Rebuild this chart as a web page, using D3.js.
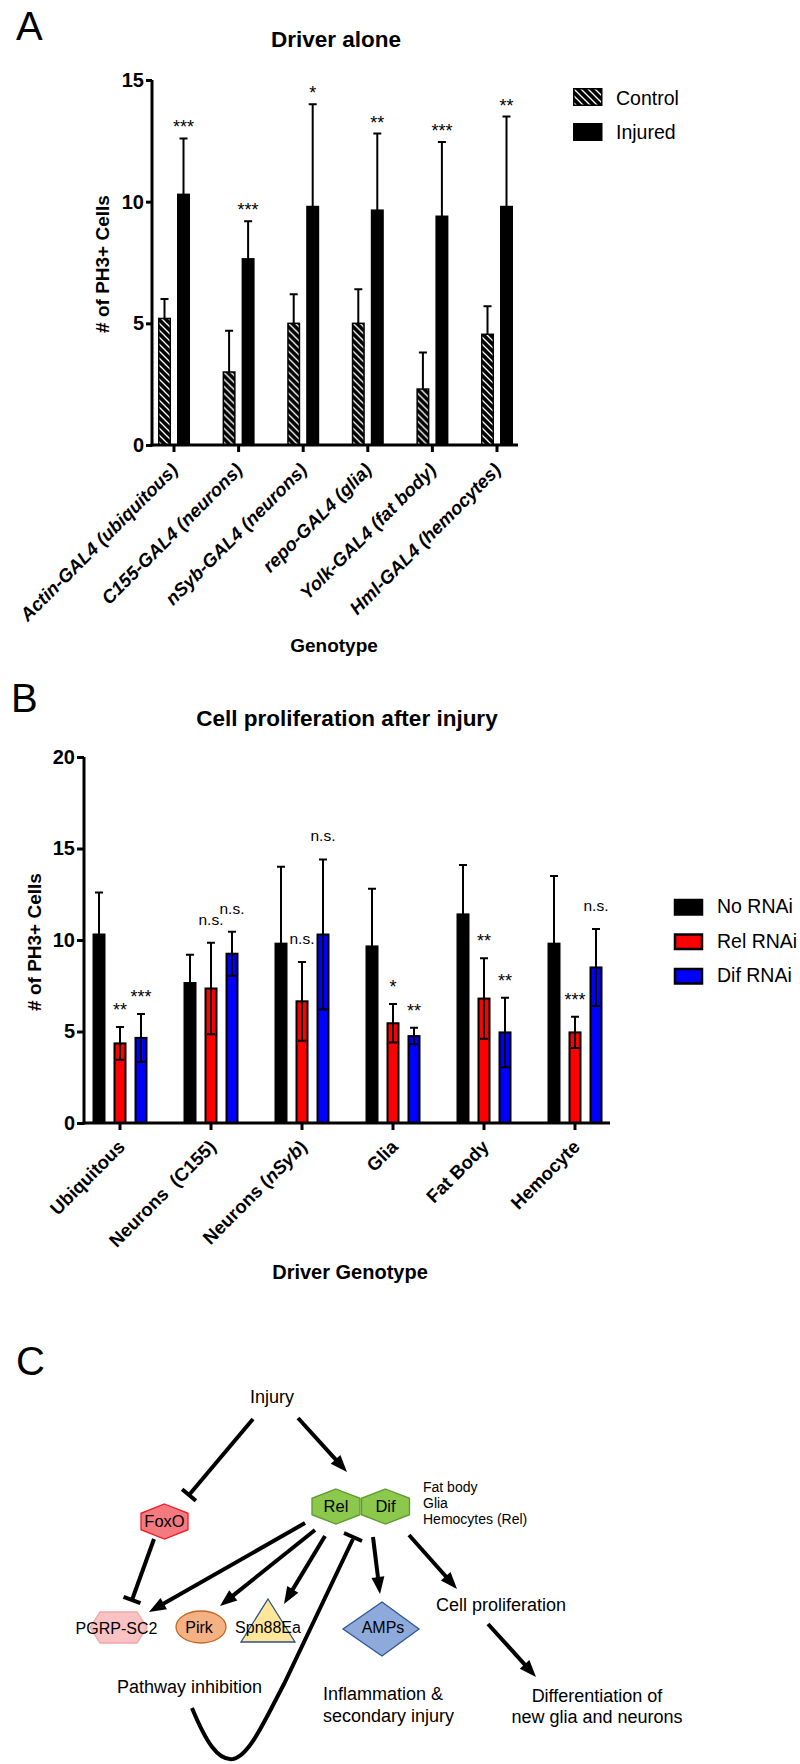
<!DOCTYPE html>
<html>
<head>
<meta charset="utf-8">
<script src="https://cdn.jsdelivr.net/npm/d3@7"></script>
<style>
  body { margin: 0; background: #fff; }
  svg { display: block; }
  text { white-space: pre; }
</style>
</head>
<body>
<div id="fig"></div>
<script>
// ---- panel A data ----
const genotypesA = ["Actin-GAL4 (ubiquitous)", "C155-GAL4 (neurons)", "nSyb-GAL4 (neurons)",
                    "repo-GAL4 (glia)", "Yolk-GAL4 (fat body)", "Hml-GAL4 (hemocytes)"];
const seriesA = ["Control", "Injured"];
const controlMean = [5.2, 3.0, 5.0, 5.0, 2.3, 4.55];
const controlSD = [0.8, 1.7, 1.2, 1.4, 1.5, 1.15];
const injuredMean = [10.3, 7.65, 9.8, 9.65, 9.4, 9.8];
const injuredSD = [2.3, 1.55, 4.2, 3.15, 3.05, 3.7];
const sigA = ["***", "***", "*", "**", "***", "**"];
const ticksA = [0, 5, 10, 15];

// ---- panel B data ----
const driversB = ["Ubiquitous", "Neurons  (C155)", "Neurons (nSyb)", "Glia", "Fat Body", "Hemocyte"];
const seriesB = ["No RNAi", "Rel RNAi", "Dif RNAi"];
const noRnaiMean = [10.3, 7.65, 9.8, 9.65, 11.4, 9.8];
const noRnaiSD = [2.3, 1.55, 4.2, 3.15, 2.7, 3.7];
const relMean = [4.35, 7.35, 6.65, 5.45, 6.8, 4.95];
const relSD = [0.9, 2.5, 2.15, 1.05, 2.2, 0.85];
const difMean = [4.65, 9.25, 10.3, 4.75, 4.95, 8.5];
const difSD = [1.3, 1.2, 4.1, 0.45, 1.9, 2.1];
const sigRel = ["**", "n.s.", "n.s.", "*", "**", "***"];
const sigDif = ["***", "n.s.", "n.s.", "**", "**", "n.s."];
const ticksB = [0, 5, 10, 15, 20];
const colorsB = ["#000000", "#ff0000", "#0000ff"];

const W = 800, H = 1764;
const FONT = '"Liberation Sans", Arial, Helvetica, sans-serif';

const svg = d3.select("#fig").append("svg")
    .attr("width", W).attr("height", H)
    .attr("viewBox", [0, 0, W, H])
    .attr("font-family", FONT);

// black hatch with thin white "\" stripes
const defs = svg.append("defs");
const hatch = defs.append("pattern")
    .attr("id", "hatch")
    .attr("patternUnits", "userSpaceOnUse")
    .attr("width", 7).attr("height", 7);
hatch.append("rect").attr("width", 7).attr("height", 7).attr("fill", "#000");
hatch.append("path")
    .attr("d", "M-1,-1L8,8M-1,6L1,8M6,-1L8,1")
    .attr("stroke", "#fff").attr("stroke-width", 1.3);

function panelLetter(t, x, y) {
    svg.append("text").attr("x", x).attr("y", y)
        .attr("font-size", 40).text(t);
}

function styleYAxis(g) {
    g.select(".domain").attr("stroke-width", 3);
    g.selectAll(".tick line").attr("stroke-width", 3);
    g.selectAll(".tick text")
        .attr("font-size", 20).attr("font-weight", "bold")
        .attr("font-family", FONT).attr("fill", "#000");
}

// ================= Panel A =================
panelLetter("A", 16, 40);

const yA = d3.scaleLinear().domain([0, 15]).range([445, 80]);
const xA = d3.scaleBand().domain(genotypesA).range([141.7, 529.3]);
const subA = d3.scaleBand().domain(seriesA).range([0, 32]).paddingInner(6 / 19);
const x0A = 152, x1A = 518;

svg.append("text").attr("x", 336).attr("y", 47)
    .attr("text-anchor", "middle").attr("font-size", 22.5).attr("font-weight", "bold")
    .text("Driver alone");

const gA = svg.append("g");
const rowsA = genotypesA.map((g, i) => ({
    g: g,
    vals: [
        { k: "Control", m: controlMean[i], sd: controlSD[i] },
        { k: "Injured", m: injuredMean[i], sd: injuredSD[i] }
    ],
    sig: sigA[i]
}));

const groupA = gA.selectAll("g.grp").data(rowsA).join("g")
    .attr("class", "grp")
    .attr("transform", d => `translate(${xA(d.g) + xA.bandwidth() / 2 - 16},0)`);

groupA.selectAll("rect").data(d => d.vals).join("rect")
    .attr("x", d => subA(d.k) + 0.75)
    .attr("width", subA.bandwidth() - 1.5)
    .attr("y", d => yA(d.m))
    .attr("height", d => yA(0) - yA(d.m))
    .attr("fill", d => d.k === "Control" ? "url(#hatch)" : "#000")
    .attr("stroke", "#000").attr("stroke-width", 1.5);

// error bars (upper only)
groupA.selectAll("path.err").data(d => d.vals).join("path")
    .attr("class", "err")
    .attr("fill", "none").attr("stroke", "#000").attr("stroke-width", 2)
    .attr("d", d => {
        const cx = subA(d.k) + subA.bandwidth() / 2;
        const yt = yA(d.m + d.sd);
        return `M${cx},${yA(d.m)}V${yt}M${cx - 4},${yt}H${cx + 4}`;
    });

groupA.append("text")
    .attr("x", 16 + 9.5)
    .attr("y", d => yA(d.vals[1].m + d.vals[1].sd) - 5)
    .attr("text-anchor", "middle").attr("font-size", 18)
    .text(d => d.sig);

// axes A
const axA = svg.append("g").attr("transform", `translate(${x0A},0)`)
    .call(d3.axisLeft(yA).tickValues(ticksA).tickSize(6).tickSizeOuter(0).tickPadding(2));
styleYAxis(axA);
axA.select(".domain").attr("d", `M0,${yA(15)}V${yA(0) + 1.5}`);

svg.append("line").attr("x1", x0A - 1.5).attr("x2", x1A).attr("y1", yA(0)).attr("y2", yA(0))
    .attr("stroke", "#000").attr("stroke-width", 3);
svg.append("g").selectAll("line").data(genotypesA).join("line")
    .attr("x1", d => xA(d) + xA.bandwidth() / 2).attr("x2", d => xA(d) + xA.bandwidth() / 2)
    .attr("y1", yA(0)).attr("y2", yA(0) + 7)
    .attr("stroke", "#000").attr("stroke-width", 3);

svg.append("g").selectAll("text").data(genotypesA).join("text")
    .attr("transform", d => `translate(${xA(d) + xA.bandwidth() / 2 + 5},471) rotate(-45)`)
    .attr("text-anchor", "end")
    .attr("font-size", 18.5).attr("font-weight", "bold").attr("font-style", "italic")
    .text(d => d);

svg.append("text").attr("x", 334).attr("y", 652)
    .attr("text-anchor", "middle").attr("font-size", 19).attr("font-weight", "bold")
    .text("Genotype");

svg.append("text")
    .attr("transform", "translate(109,264) rotate(-90)")
    .attr("text-anchor", "middle").attr("font-size", 19).attr("font-weight", "bold")
    .text("# of PH3+ Cells");

// legend A
const legA = svg.append("g").attr("transform", "translate(573,88)");
legA.selectAll("rect").data(seriesA).join("rect")
    .attr("x", 0.75).attr("y", (d, i) => i * 35 + 0.75)
    .attr("width", 28).attr("height", 16.5)
    .attr("fill", d => d === "Control" ? "url(#hatch)" : "#000")
    .attr("stroke", "#000").attr("stroke-width", 1.5);
legA.selectAll("text").data(seriesA).join("text")
    .attr("x", 43).attr("y", (d, i) => 17 + i * 33.5)
    .attr("font-size", 19.5)
    .text(d => d);

// ================= Panel B =================
panelLetter("B", 11, 712);

const yB = d3.scaleLinear().domain([0, 20]).range([1123, 757]);
const xB = d3.scaleBand().domain(driversB).range([74.5, 620.5]);
const subB = d3.scaleBand().domain(seriesB).range([0, 53]).paddingInner(10 / 21);
const x0B = 84, x1B = 610;

svg.append("text").attr("x", 347).attr("y", 726)
    .attr("text-anchor", "middle").attr("font-size", 22.5).attr("font-weight", "bold")
    .text("Cell proliferation after injury");

const rowsB = driversB.map((g, i) => ({
    g: g,
    vals: [
        { k: seriesB[0], m: noRnaiMean[i], sd: noRnaiSD[i], sig: "" },
        { k: seriesB[1], m: relMean[i], sd: relSD[i], sig: sigRel[i] },
        { k: seriesB[2], m: difMean[i], sd: difSD[i], sig: sigDif[i] }
    ]
}));

const groupB = svg.append("g").selectAll("g.grp").data(rowsB).join("g")
    .attr("class", "grp")
    .attr("transform", d => `translate(${xB(d.g) + xB.bandwidth() / 2 - 26.5},0)`);

groupB.selectAll("rect").data(d => d.vals).join("rect")
    .attr("x", d => subB(d.k))
    .attr("width", subB.bandwidth())
    .attr("y", d => yB(d.m))
    .attr("height", d => yB(0) - yB(d.m))
    .attr("fill", (d, i) => colorsB[i])
    .attr("stroke", "#000").attr("stroke-width", 2);

// error bars (both directions)
groupB.selectAll("path.err").data(d => d.vals).join("path")
    .attr("class", "err")
    .attr("fill", "none").attr("stroke", "#000").attr("stroke-width", 2)
    .attr("d", d => {
        const cx = subB(d.k) + subB.bandwidth() / 2;
        const yt = yB(d.m + d.sd), yb = yB(d.m - d.sd);
        return `M${cx},${yb}V${yt}M${cx - 4},${yt}H${cx + 4}M${cx - 4},${yb}H${cx + 4}`;
    });

groupB.selectAll("text").data(d => d.vals.filter(v => v.sig)).join("text")
    .attr("x", d => subB(d.k) + subB.bandwidth() / 2)
    .attr("y", d => yB(d.m + d.sd) - (d.sig === "n.s." ? 18 : 11))
    .attr("text-anchor", "middle")
    .attr("font-size", d => d.sig === "n.s." ? 15.5 : 18)
    .text(d => d.sig);

const axB = svg.append("g").attr("transform", `translate(${x0B},0)`)
    .call(d3.axisLeft(yB).tickValues(ticksB).tickSize(7).tickSizeOuter(0).tickPadding(2));
styleYAxis(axB);
axB.select(".domain").attr("d", `M0,${yB(20)}V${yB(0) + 1.5}`);

svg.append("line").attr("x1", x0B - 1.5).attr("x2", x1B).attr("y1", yB(0)).attr("y2", yB(0))
    .attr("stroke", "#000").attr("stroke-width", 3);
svg.append("g").selectAll("line").data(driversB).join("line")
    .attr("x1", d => xB(d) + xB.bandwidth() / 2).attr("x2", d => xB(d) + xB.bandwidth() / 2)
    .attr("y1", yB(0)).attr("y2", yB(0) + 7)
    .attr("stroke", "#000").attr("stroke-width", 3);

const labB = svg.append("g").selectAll("text").data(driversB).join("text")
    .attr("transform", d => `translate(${xB(d) + xB.bandwidth() / 2 + 6},1148) rotate(-45)`)
    .attr("text-anchor", "end")
    .attr("font-size", 18.5).attr("font-weight", "bold");
// nSyb is a gene name -> italic
labB.each(function (d) {
    const parts = d.split(/(nSyb)/).filter(p => p);
    d3.select(this).selectAll("tspan").data(parts).join("tspan")
        .attr("font-style", p => p === "nSyb" ? "italic" : null)
        .text(p => p);
});

svg.append("text").attr("x", 350).attr("y", 1279)
    .attr("text-anchor", "middle").attr("font-size", 20).attr("font-weight", "bold")
    .text("Driver Genotype");

svg.append("text")
    .attr("transform", "translate(41,942) rotate(-90)")
    .attr("text-anchor", "middle").attr("font-size", 19).attr("font-weight", "bold")
    .text("# of PH3+ Cells");

const legB = svg.append("g").attr("transform", "translate(674,899)");
legB.selectAll("rect").data(seriesB).join("rect")
    .attr("x", 1).attr("y", (d, i) => i * 34.5 + 1)
    .attr("width", 27).attr("height", 14.5)
    .attr("fill", (d, i) => colorsB[i])
    .attr("stroke", "#000").attr("stroke-width", 2.5);
legB.selectAll("text").data(seriesB).join("text")
    .attr("x", 43).attr("y", (d, i) => 14 + i * 34.5)
    .attr("font-size", 19.5)
    .text(d => d);

// ================= Panel C (schematic) =================
panelLetter("C", 16, 1375);

const gC = svg.append("g");

function hexPointy(cx, cy, hw, hh) {
    const q = hh * 0.47;
    return [[cx, cy - hh], [cx + hw, cy - q], [cx + hw, cy + q], [cx, cy + hh], [cx - hw, cy + q], [cx - hw, cy - q]];
}

const shapes = [
    { type: "poly", pts: hexPointy(336, 1506.5, 24, 17.5), fill: "#8cc84b", stroke: "#5b9a2e" },
    { type: "poly", pts: hexPointy(385.5, 1506.5, 24, 17.5), fill: "#8cc84b", stroke: "#5b9a2e" },
    { type: "poly", pts: hexPointy(164.5, 1521.5, 23.5, 17.5), fill: "#f47a80", stroke: "#ee1c25" },
    { type: "poly", pts: [[90, 1627.5], [100, 1612], [137, 1612], [147, 1627.5], [137, 1643], [100, 1643]], fill: "#f9c3c4", stroke: "#f4a6a8" },
    { type: "ellipse", cx: 201, cy: 1627, rx: 25, ry: 16, fill: "#f4b183", stroke: "#c7651f" },
    { type: "poly", pts: [[268, 1599], [295, 1642], [241, 1642]], fill: "#ffe699", stroke: "#2f4f8f" },
    { type: "poly", pts: [[382, 1602], [419, 1629], [382, 1656], [343, 1629]], fill: "#8eaadb", stroke: "#2f5597" }
];

gC.selectAll("polygon").data(shapes.filter(s => s.type === "poly")).join("polygon")
    .attr("points", d => d.pts.map(p => p.join(",")).join(" "))
    .attr("fill", d => d.fill).attr("stroke", d => d.stroke).attr("stroke-width", 1.3);
gC.selectAll("ellipse").data(shapes.filter(s => s.type === "ellipse")).join("ellipse")
    .attr("cx", d => d.cx).attr("cy", d => d.cy).attr("rx", d => d.rx).attr("ry", d => d.ry)
    .attr("fill", d => d.fill).attr("stroke", d => d.stroke).attr("stroke-width", 1.3);

// arrows and inhibitions
const edges = [
    { a: [253, 1419], b: [189, 1495], kind: "inhibit" },
    { a: [298, 1418], b: [347, 1472], kind: "arrow" },
    { a: [154, 1539], b: [132, 1600], kind: "inhibit" },
    { a: [305, 1523], b: [149, 1612], kind: "arrow" },
    { a: [315, 1530], b: [220, 1606], kind: "arrow" },
    { a: [325, 1536], b: [284, 1604], kind: "arrow" },
    { a: [373, 1537], b: [380, 1594], kind: "arrow" },
    { a: [409, 1535], b: [457, 1589], kind: "arrow" },
    { a: [488, 1624], b: [536, 1677], kind: "arrow" }
];

function drawEdge(e) {
    const dx = e.b[0] - e.a[0], dy = e.b[1] - e.a[1];
    const len = Math.hypot(dx, dy);
    const ux = dx / len, uy = dy / len, px = -uy, py = ux;
    if (e.kind === "arrow") {
        const hl = 17, hw = 6.5;
        const bx = e.b[0] - ux * hl, by = e.b[1] - uy * hl;
        gC.append("line").attr("x1", e.a[0]).attr("y1", e.a[1]).attr("x2", bx + ux * 2).attr("y2", by + uy * 2)
            .attr("stroke", "#000").attr("stroke-width", 4);
        gC.append("polygon")
            .attr("points", [[e.b[0], e.b[1]], [bx + px * hw, by + py * hw], [bx - px * hw, by - py * hw]].map(p => p.join(",")).join(" "))
            .attr("fill", "#000");
    } else {
        gC.append("line").attr("x1", e.a[0]).attr("y1", e.a[1]).attr("x2", e.b[0]).attr("y2", e.b[1])
            .attr("stroke", "#000").attr("stroke-width", 4);
        const hw = 9;
        gC.append("line")
            .attr("x1", e.b[0] + px * hw).attr("y1", e.b[1] + py * hw)
            .attr("x2", e.b[0] - px * hw).attr("y2", e.b[1] - py * hw)
            .attr("stroke", "#000").attr("stroke-width", 4);
    }
}
edges.forEach(drawEdge);

// feedback loop (pathway inhibition)
gC.append("path")
    .attr("d", "M192,1708C206,1742 218,1761 233,1759C249,1756 264,1722 284,1684L353,1539")
    .attr("fill", "none").attr("stroke", "#000").attr("stroke-width", 4);
gC.append("line").attr("x1", 344).attr("y1", 1533).attr("x2", 362).attr("y2", 1541)
    .attr("stroke", "#000").attr("stroke-width", 4);

const labelsC = [
    { t: "Injury", x: 272, y: 1403, size: 18, anchor: "middle" },
    { t: "Rel", x: 336, y: 1512, size: 16.5, anchor: "middle" },
    { t: "Dif", x: 385.5, y: 1512, size: 16.5, anchor: "middle" },
    { t: "FoxO", x: 164.5, y: 1527, size: 16.5, anchor: "middle" },
    { t: "PGRP-SC2", x: 116.5, y: 1634, size: 16, anchor: "middle" },
    { t: "Pirk", x: 199, y: 1633, size: 16, anchor: "middle" },
    { t: "Spn88Ea", x: 268, y: 1633, size: 16, anchor: "middle" },
    { t: "AMPs", x: 383, y: 1633, size: 16, anchor: "middle" },
    { t: "Fat body", x: 423, y: 1492, size: 14, anchor: "start" },
    { t: "Glia", x: 423, y: 1508, size: 14, anchor: "start" },
    { t: "Hemocytes (Rel)", x: 423, y: 1524, size: 14, anchor: "start" },
    { t: "Cell proliferation", x: 436, y: 1611, size: 18, anchor: "start" },
    { t: "Pathway inhibition", x: 117, y: 1693, size: 18, anchor: "start" },
    { t: "Inflammation &", x: 323, y: 1700, size: 18, anchor: "start" },
    { t: "secondary injury", x: 323, y: 1722, size: 18, anchor: "start" },
    { t: "Differentiation of", x: 597, y: 1702, size: 18, anchor: "middle" },
    { t: "new glia and neurons", x: 597, y: 1723, size: 18, anchor: "middle" }
];
gC.selectAll("text").data(labelsC).join("text")
    .attr("x", d => d.x).attr("y", d => d.y)
    .attr("font-size", d => d.size).attr("text-anchor", d => d.anchor)
    .text(d => d.t);
</script>
</body>
</html>
